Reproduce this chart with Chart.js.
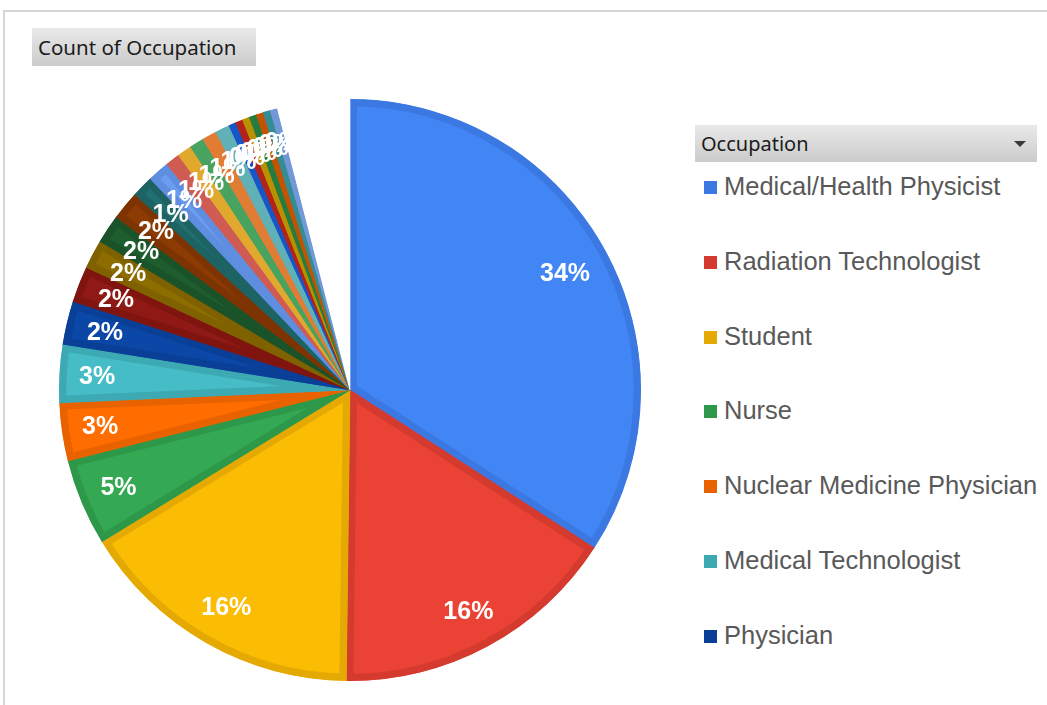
<!DOCTYPE html>
<html>
<head>
<meta charset="utf-8">
<script src="https://cdn.jsdelivr.net/npm/chart.js@4"></script>
<style>
  body { margin: 0; background: #fff; width: 1047px; height: 705px; overflow: hidden; position: relative; }
  #frame { position: absolute; left: 3px; top: 10px; right: 0; bottom: -5px; border-top: 2px solid #d6d6d6; border-left: 2px solid #d6d6d6; }
  .btn { position: absolute; background: linear-gradient(#e9e9e9, #cbcbcb); font-family: "Noto Sans", sans-serif; color: #1b1b1b; box-sizing: border-box; }
  #title { left: 32px; top: 28px; width: 224px; height: 38px; font-size: 20.5px; line-height: 38px; padding-left: 6px; }
  #legHead { left: 695px; top: 125px; width: 342px; height: 37px; font-size: 20px; line-height: 37px; padding-left: 6px; }
  #legHead .arrow { position: absolute; right: 11px; top: 16px; width: 0; height: 0; border-left: 6px solid transparent; border-right: 6px solid transparent; border-top: 6px solid #3a3a3a; }
  #pieBox { position: absolute; left: 50px; top: 90px; width: 600px; height: 600px; }
  .item { position: absolute; left: 704px; font-family: "Liberation Sans", Arial, sans-serif; font-size: 25.5px; color: #595959; white-space: nowrap; height: 30px; line-height: 30px; }
  .item i { display: inline-block; width: 13px; height: 13px; margin-right: 7px; vertical-align: 1px; }
</style>
</head>
<body>
<div id="frame"></div>
<div id="title" class="btn">Count of Occupation</div>
<div id="legHead" class="btn">Occupation<span class="arrow"></span></div>
<div id="pieBox"><canvas id="myChart"></canvas></div>
<div id="legend"></div>
<script>
// categories (only the first seven are visible in the legend)
var occupations = [
    "Medical/Health Physicist", "Radiation Technologist", "Student", "Nurse",
    "Nuclear Medicine Physician", "Medical Technologist", "Physician",
    "Other occupation 8", "Other occupation 9", "Other occupation 10", "Other occupation 11",
    "Other occupation 12", "Other occupation 13", "Other occupation 14", "Other occupation 15",
    "Other occupation 16", "Other occupation 17", "Other occupation 18", "Other occupation 19",
    "Other occupation 20", "Other occupation 21", "Other occupation 22", "Other occupation 23",
    "Other occupation 24", "Other occupation 25", "(blank)"
];
// count of respondents per occupation
var counts = [85, 40, 40, 12, 8, 8, 6, 5, 4, 4, 4, 3, 3, 2, 2, 2, 2, 2, 1, 1, 1, 1, 1, 1, 1, 10];

var fillColors = [
    "#4285F4", "#EA4335", "#FBBC04", "#34A853", "#FF6D01", "#46BDC6", "#0B47A6",
    "#8F1A15", "#8D6C00", "#1E5E2E", "#8C3B02", "#216F70", "#6A9CEF", "#E0665E",
    "#F2B835", "#4FB56A", "#F18A3B", "#6BC2C9", "#1B5FDC", "#C5281D", "#CCA000",
    "#2B8A46", "#D85C00", "#3A9CA5", "#7FA8EE", "#FFFFFF"
];
var edgeColors = [
    "#3B78E2", "#D43A2E", "#E5A903", "#2E984A", "#E86200", "#3DAAB3", "#0A3F98",
    "#801510", "#7F6100", "#1A5229", "#7E3402", "#1D6364", "#5F8DE0", "#CF5B53",
    "#E0A92E", "#47A35F", "#E07C33", "#60B0B7", "#1855C7", "#B2231A", "#B89000",
    "#267C3F", "#C35300", "#348D95", "#7398D8", "#FFFFFF"
];

// legend (Excel shows only the first 7 entries)
var legendHtml = "";
for (var i = 0; i < 7; i++) {
    var itemTop = 186 + i * 74.8 - 15;
    legendHtml += '<div class="item" style="top:' + itemTop + 'px"><i style="background:' + edgeColors[i] + '"></i>' + occupations[i] + '</div>';
}
document.getElementById('legend').innerHTML = legendHtml;

// percentage labels placed near the outer edge, inside the slice
var pctLabels = {
    id: 'pctLabels',
    afterDatasetsDraw: function (chart) {
        var ctx = chart.ctx;
        var meta = chart.getDatasetMeta(0);
        var total = counts.reduce(function (a, b) { return a + b; }, 0);
        ctx.save();
        ctx.font = 'bold 25px "Liberation Sans", Arial, sans-serif';
        ctx.fillStyle = '#ffffff';
        ctx.textAlign = 'center';
        ctx.textBaseline = 'middle';
        meta.data.forEach(function (arc, i) {
            var p = arc.getProps(['x', 'y', 'startAngle', 'endAngle', 'outerRadius']);
            var mid = (p.startAngle + p.endAngle) / 2;
            var txt = Math.round(counts[i] / total * 100) + '%';
            var w = ctx.measureText(txt).width, h = 22;
            var ext = Math.abs(w / 2 * Math.cos(mid)) + Math.abs(h / 2 * Math.sin(mid));
            var r = p.outerRadius - 19 - ext;
            ctx.fillText(txt, p.x + r * Math.cos(mid), p.y + r * Math.sin(mid) + 1);
        });
        ctx.restore();
    }
};

var ctx = document.getElementById('myChart');
var myChart = new Chart(ctx, {
    type: 'pie',
    data: {
        labels: occupations,
        datasets: [{
            data: counts,
            backgroundColor: fillColors,
            borderColor: edgeColors,
            borderWidth: 7,
            borderAlign: 'inner'
        }]
    },
    options: {
        responsive: true,
        maintainAspectRatio: false,
        animation: false,
        events: [],
        radius: 291,
        plugins: {
            legend: { display: false },
            tooltip: { enabled: false }
        }
    },
    plugins: [pctLabels]
});
</script>
</body>
</html>
